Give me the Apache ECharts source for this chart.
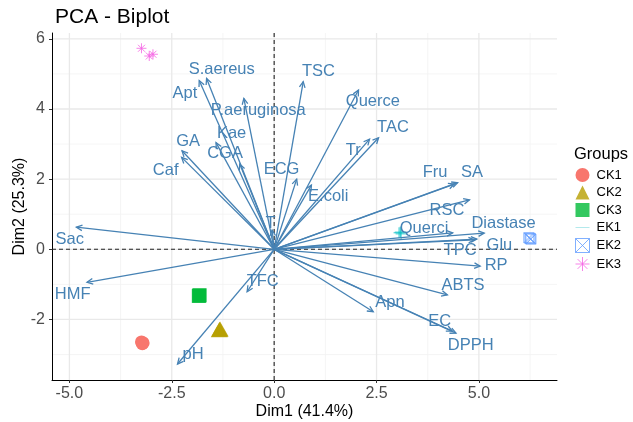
<!DOCTYPE html>
<html><head><meta charset="utf-8">
<script src="https://cdn.jsdelivr.net/npm/echarts@6/dist/echarts.min.js"></script>
<style>html,body{margin:0;padding:0;background:#fff}#c{width:633px;height:422px}</style>
</head><body><div id="c"></div>
<script>
// Variables (arrows) and their label positions
const varNames = ['Sac','HMF','pH','TFC','Caf','GA','Apt','S.aereus','CGA','Kae','P.aeruginosa','TSC','ECG','E.coli','Querce','Tr','TAC','Fru','SA','RSC','Querci','Diastase','Glu','TPC','RP','ABTS','Apn','EC','DPPH','T'];
const varX = [-4.83,-4.57,-2.36,-0.66,-2.26,-2.25,-1.83,-1.65,-1.42,-0.84,-0.74,0.71,0.55,0.91,2.06,2.33,2.55,4.40,4.48,4.77,4.36,5.13,4.95,4.89,5.03,4.23,2.42,4.35,4.44,-0.05];
const varY = [0.63,-0.94,-3.27,-1.21,2.62,2.81,4.81,4.87,3.04,2.43,4.30,4.78,2.00,1.83,4.54,3.14,3.18,1.86,1.90,1.41,0.47,0.46,0.29,0.27,-0.48,-1.30,-1.78,-2.33,-2.39,0.55];
const labelX = [-4.99,-4.92,-1.98,-0.28,-2.65,-2.10,-2.18,-1.28,-1.20,-1.04,-0.39,1.08,0.18,1.32,2.41,1.93,2.90,3.93,4.83,4.22,3.66,5.60,5.50,4.54,5.42,4.61,2.83,4.04,4.80,-0.09];
const labelY = [0.29,-1.28,-3.01,-0.92,2.24,3.07,4.45,5.13,2.72,3.31,3.97,5.06,2.28,1.50,4.21,2.83,3.47,2.18,2.18,1.12,0.60,0.74,0.12,-0.04,-0.45,-1.02,-1.52,-2.06,-2.73,0.75];

// Individuals per group
const groups = ['CK1','CK2','CK3','EK1','EK2','EK3'];
const ck1 = [[-3.24,-2.64],[-3.20,-2.67],[-3.22,-2.69]];
const ck2 = [[-1.33,-2.28],[-1.32,-2.27],[-1.34,-2.29]];
const ck3 = [[-1.83,-1.32],[-1.82,-1.31],[-1.84,-1.33]];
const ek1 = [[3.05,0.47],[3.10,0.44],[3.08,0.49]];
const ek2 = [[6.22,0.33],[6.27,0.29],[6.25,0.31]];
const ek3 = [[-3.24,5.73],[-3.05,5.51],[-2.96,5.56]];

// Axis ticks
const xTicks = [-5,-2.5,0,2.5,5];
const xMinor = [-3.75,-1.25,1.25,3.75,6.25];
const yTicks = [-2,0,2,4,6];
const yMinor = [-3,-1,1,3,5];
const xRange = [-5.425, 6.907];
const yRange = [-3.726, 6.166];

const FONT = 'Liberation Sans';
const BLUE = '#4682B4';

function vLines(color, width, dash) {
  return function (params, api) {
    const cs = params.coordSys;
    const x = api.coord([api.value(0), 0])[0];
    return {type: 'line', shape: {x1: x, y1: cs.y, x2: x, y2: cs.y + cs.height},
      style: {stroke: color, lineWidth: width, lineDash: dash}};
  };
}
function hLines(color, width, dash) {
  return function (params, api) {
    const cs = params.coordSys;
    const y = api.coord([0, api.value(1)])[1];
    return {type: 'line', shape: {x1: cs.x, y1: y, x2: cs.x + cs.width, y2: y},
      style: {stroke: color, lineWidth: width, lineDash: dash}};
  };
}

const chart = echarts.init(document.getElementById('c'), null, {renderer: 'canvas'});
const plusPath = 'path://M0,5L10,5M5,0L5,10';
const sqCrossPath = 'path://M0,0L10,0L10,10L0,10ZM0,0L10,10M10,0L0,10';
const starPath = 'path://M0,5L10,5M5,0L5,10M1.5,1.5L8.5,8.5M8.5,1.5L1.5,8.5';

const option = {
  animation: false,
  backgroundColor: '#fff',
  textStyle: {fontFamily: FONT},
  title: [
    {text: 'PCA - Biplot', left: 50, top: 2, textStyle: {fontSize: 21, fontWeight: 'normal', color: '#000', fontFamily: FONT}},
    {text: 'Groups', left: 569, top: 141, textStyle: {fontSize: 16.5, fontWeight: 'normal', color: '#000', fontFamily: FONT}}
  ],
  grid: {left: 52, right: 76, top: 33, bottom: 42, containLabel: false, outerBoundsMode: 'none'},
  legend: {
    orient: 'vertical', left: 570, top: 163, itemWidth: 14, itemHeight: 14, itemGap: 3.5,
    selectedMode: false,
    textStyle: {fontSize: 13, color: '#000', fontFamily: FONT, padding: [0, 0, 0, 2]},
    data: [
      {name: 'CK1'}, {name: 'CK2'}, {name: 'CK3'},
      {name: 'EK1', icon: 'path://M0,0M20,20M0,9.4L20,9.4L20,10.6L0,10.6Z', itemStyle: {color: '#8fdfe2', borderWidth: 0}},
      {name: 'EK2', itemStyle: {color: 'rgba(0,0,0,0)', borderColor: '#619CFF', borderWidth: 1}},
      {name: 'EK3', itemStyle: {color: 'rgba(0,0,0,0)', borderColor: '#F564E3', borderWidth: 1}}
    ]
  },
  xAxis: {
    type: 'value', min: xRange[0], max: xRange[1],
    name: 'Dim1 (41.4%)', nameLocation: 'middle', nameGap: 24, nameMoveOverlap: false,
    nameTextStyle: {fontSize: 16, color: '#000', fontFamily: FONT},
    axisLine: {show: true, onZero: false, lineStyle: {color: '#000', width: 1}},
    axisTick: {show: true, length: 3, customValues: xTicks, lineStyle: {color: '#333'}},
    axisLabel: {customValues: xTicks, formatter: v => Number(v).toFixed(1), fontSize: 16, color: '#4d4d4d', margin: 6, fontFamily: FONT},
    splitLine: {show: false}
  },
  yAxis: {
    type: 'value', min: yRange[0], max: yRange[1],
    name: 'Dim2 (25.3%)', nameLocation: 'middle', nameGap: 24, nameMoveOverlap: false,
    nameTextStyle: {fontSize: 16, color: '#000', fontFamily: FONT},
    axisLine: {show: true, onZero: false, lineStyle: {color: '#000', width: 1}},
    axisTick: {show: true, length: 3, customValues: yTicks, lineStyle: {color: '#333'}},
    axisLabel: {customValues: yTicks, formatter: v => String(v), fontSize: 16, color: '#4d4d4d', margin: 7, fontFamily: FONT},
    splitLine: {show: false}
  },
  series: [
    {type: 'custom', silent: true, z: 0, renderItem: vLines('#f3f3f3', 0.8), data: xMinor.map(v => [v, 0])},
    {type: 'custom', silent: true, z: 0, renderItem: hLines('#f3f3f3', 0.8), data: yMinor.map(v => [0, v])},
    {type: 'custom', silent: true, z: 0, renderItem: vLines('#e9e9e9', 1.3), data: xTicks.map(v => [v, 0])},
    {type: 'custom', silent: true, z: 0, renderItem: hLines('#e9e9e9', 1.3), data: yTicks.map(v => [0, v])},
    {type: 'custom', silent: true, z: 1, renderItem: vLines('#222', 1.1, [4, 3]), data: [[0, 0]]},
    {type: 'custom', silent: true, z: 1, renderItem: hLines('#222', 1.1, [4, 3]), data: [[0, 0]]},
    {name: 'CK1', type: 'scatter', z: 2, symbol: 'circle', symbolSize: 13, data: ck1, itemStyle: {color: '#F8766D', opacity: 1}},
    {name: 'CK2', type: 'scatter', z: 2, symbol: 'triangle', symbolSize: [17, 15], data: ck2, itemStyle: {color: '#B79F00'}},
    {name: 'CK3', type: 'scatter', z: 2, symbol: 'rect', symbolSize: 14, data: ck3, itemStyle: {color: '#00BA38'}},
    {name: 'EK1', type: 'scatter', z: 2, symbol: plusPath, symbolSize: 11, data: ek1, itemStyle: {color: 'rgba(0,0,0,0)', borderColor: '#00BFC4', borderWidth: 1}},
    {name: 'EK2', type: 'scatter', z: 2, symbol: sqCrossPath, symbolSize: 10, data: ek2, itemStyle: {color: 'rgba(0,0,0,0)', borderColor: '#619CFF', borderWidth: 1}},
    {name: 'EK3', type: 'scatter', z: 2, symbol: starPath, symbolSize: 10, data: ek3, itemStyle: {color: 'rgba(0,0,0,0)', borderColor: '#F564E3', borderWidth: 1}},
    {
      type: 'custom', silent: true, z: 3,
      data: varX.map((x, i) => [x, varY[i]]),
      renderItem: function (params, api) {
        const o = api.coord([0, 0]);
        const t = api.coord([api.value(0), api.value(1)]);
        const ang = Math.atan2(t[1] - o[1], t[0] - o[0]);
        const L = 6.5, A = Math.PI / 7;
        const p1 = [t[0] - L * Math.cos(ang - A), t[1] - L * Math.sin(ang - A)];
        const p2 = [t[0] - L * Math.cos(ang + A), t[1] - L * Math.sin(ang + A)];
        return {type: 'group', children: [
          {type: 'line', shape: {x1: o[0], y1: o[1], x2: t[0], y2: t[1]}, style: {stroke: BLUE, lineWidth: 1.3}},
          {type: 'polyline', shape: {points: [p1, t, p2]}, style: {stroke: BLUE, lineWidth: 1.3, fill: null}}
        ]};
      }
    },
    {
      type: 'custom', silent: true, z: 4,
      data: labelX.map((x, i) => [x, labelY[i]]),
      renderItem: function (params, api) {
        const p = api.coord([api.value(0), api.value(1)]);
        return {type: 'text', x: p[0], y: p[1], style: {
          text: varNames[params.dataIndex], fill: BLUE, fontSize: 16.5, fontFamily: FONT,
          align: 'center', verticalAlign: 'middle'}};
      }
    }
  ]
};
chart.setOption(option);
</script>
</body></html>
